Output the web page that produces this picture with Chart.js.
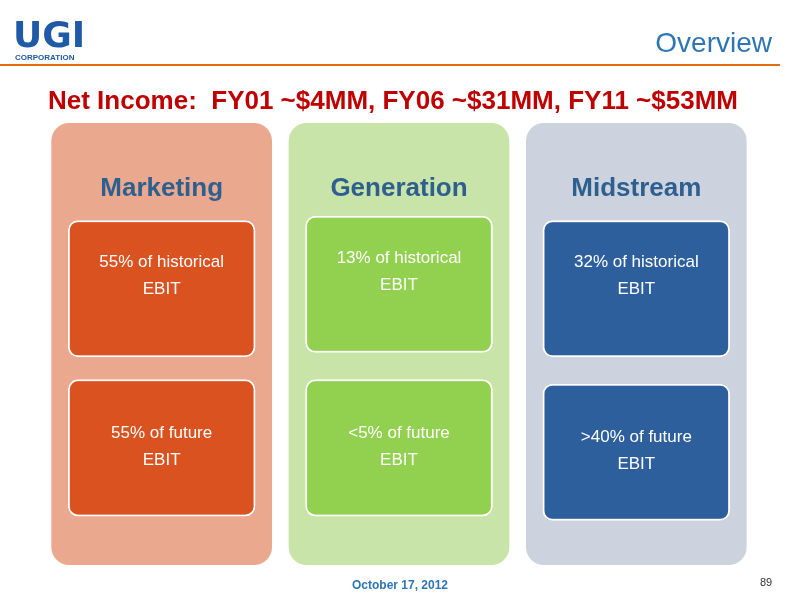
<!DOCTYPE html>
<html><head><meta charset="utf-8">
<script src="https://cdn.jsdelivr.net/npm/chart.js@4"></script>
<style>body{margin:0;background:#fff}canvas{display:block}</style>
</head><body>
<canvas id="c" width="800" height="600"></canvas>
<script>
const segments = ["Marketing", "Generation", "Midstream"];
const historicalText = ["55% of historical", "13% of historical", "32% of historical"];
const futureText = ["55% of future", "<5% of future", ">40% of future"];
// box spans on a 0-100 vertical scale
const columnSpan = [[0, 100], [0, 100], [0, 100]];
const historicalSpan = [[47, 78], [48, 79], [47, 78]];
const futureSpan = [[11, 42], [11, 42], [10, 41]];
const columnColors = ["#eaa98e", "#c9e4a9", "#ccd3de"];
const boxColors = ["#d9521f", "#92d050", "#2e5f9d"];

const slide = {
  id: "slide",
  beforeDraw(chart) {
    const ctx = chart.ctx;
    ctx.save();
    ctx.fillStyle = "#fff";
    ctx.fillRect(0, 0, 800, 600);
    ctx.restore();
  },
  afterDraw(chart) {
    const ctx = chart.ctx, x = chart.scales.x, y = chart.scales.y;
    ctx.save();
    // logo
    ctx.fillStyle = "#1f5aa6";
    ctx.font = "900 36px 'DejaVu Sans', Arial";
    ctx.textBaseline = "alphabetic";
    ctx.fillText("UGI", 13, 47);
    ctx.font = "bold 8px Arial, 'Liberation Sans'";
    ctx.fillText("CORPORATION", 15, 60);
    // title
    ctx.fillStyle = "#2e75b6";
    ctx.font = "28px Arial, 'Liberation Sans'";
    ctx.textAlign = "right";
    ctx.fillText("Overview", 772, 52);
    ctx.strokeStyle = "#e46c0a";
    ctx.lineWidth = 2;
    ctx.beginPath(); ctx.moveTo(0, 65); ctx.lineTo(780, 65); ctx.stroke();
    ctx.textAlign = "left";
    ctx.fillStyle = "#c00000";
    ctx.font = "bold 26px Arial, 'Liberation Sans'";
    ctx.fillText("Net Income:  FY01 ~$4MM, FY06 ~$31MM, FY11 ~$53MM", 48, 109);
    // footer
    ctx.fillStyle = "#2e75b6";
    ctx.font = "bold 12px Arial, 'Liberation Sans'";
    ctx.textAlign = "center";
    ctx.fillText("October 17, 2012", 400, 589);
    ctx.fillStyle = "#333";
    ctx.font = "11px Arial, 'Liberation Sans'";
    ctx.fillText("89", 766, 586);
    // text in columns
    ctx.textBaseline = "middle";
    segments.forEach((s, i) => {
      const cx = x.getPixelForValue(i);
      ctx.fillStyle = "#2e5f8f";
      ctx.font = "bold 26px Arial, 'Liberation Sans'";
      ctx.fillText(s, cx, y.getPixelForValue(85));
      ctx.fillStyle = "#fff";
      ctx.font = "17px Arial, 'Liberation Sans'";
      const hm = y.getPixelForValue((historicalSpan[i][0] + historicalSpan[i][1]) / 2);
      ctx.fillText(historicalText[i], cx, hm - 26);
      ctx.fillText("EBIT", cx, hm + 1);
      const fm = y.getPixelForValue((futureSpan[i][0] + futureSpan[i][1]) / 2);
      ctx.fillText(futureText[i], cx, fm - 15);
      ctx.fillText("EBIT", cx, fm + 12);
    });
    ctx.restore();
  }
};

new Chart(document.getElementById("c"), {
  type: "bar",
  data: {
    labels: segments,
    datasets: [
      { data: columnSpan, backgroundColor: columnColors, borderRadius: 18, borderSkipped: false,
        grouped: false, barPercentage: 1, categoryPercentage: 0.93, order: 2 },
      { data: historicalSpan, backgroundColor: boxColors, borderColor: "#fff", borderWidth: 2,
        borderRadius: 10, borderSkipped: false, grouped: false, barPercentage: 0.85, categoryPercentage: 0.93, order: 1 },
      { data: futureSpan, backgroundColor: boxColors, borderColor: "#fff", borderWidth: 2,
        borderRadius: 10, borderSkipped: false, grouped: false, barPercentage: 0.85, categoryPercentage: 0.93, order: 1 }
    ]
  },
  options: {
    responsive: false, animation: false,
    layout: { padding: { left: 43, right: 45, top: 123, bottom: 35 } },
    plugins: { legend: { display: false }, tooltip: { enabled: false } },
    scales: {
      x: { display: false },
      y: { display: false, min: 0, max: 100 }
    }
  },
  plugins: [slide]
});
</script>
</body></html>
